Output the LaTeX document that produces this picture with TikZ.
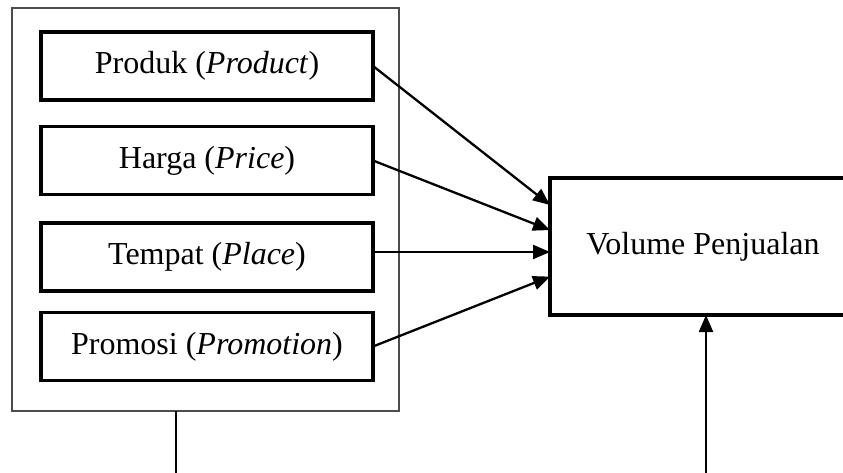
\documentclass[tikz,border=0pt]{standalone}
\usepackage{fontspec}
\setmainfont{Liberation Serif}
\usetikzlibrary{arrows.meta,calc}

\tikzset{
  factor/.style={draw, line width=3.5pt, minimum width=332pt, minimum height=68pt,
                 inner sep=0pt, outer sep=0pt, font=\fontsize{32}{38}\selectfont},
  target/.style={draw, line width=3.5pt, minimum width=306pt, minimum height=137pt,
                 inner sep=0pt, outer sep=0pt, font=\fontsize{32}{38}\selectfont},
  group/.style={draw=black!70, line width=1.3pt, minimum width=387pt, minimum height=403pt,
                inner sep=0pt, outer sep=0pt},
  link/.style={line width=2.3pt, -{Triangle[length=17pt,width=14pt]}},
  plain/.style={line width=2.3pt}
}

\begin{document}
\begin{tikzpicture}[x=1pt, y=-1pt]
  \useasboundingbox[fill=white] (0,0) rectangle (843,473);

  % marketing mix group
  \node[group] (grp) at (205.5,209.5) {};
  \node[factor] (b1) at (207,66)    {Produk (\textit{Product})};
  \node[factor] (b2) at (207,160.5) {Harga (\textit{Price})};
  \node[factor] (b3) at (207,257)   {Tempat (\textit{Place})};
  \node[factor] (b4) at (207,346.5) {Promosi (\textit{Promotion})};

  % dependent variable
  \node[target] (vol) at (703,246.5) {Volume Penjualan};

  % entry points on the left side of the target
  \coordinate (t1) at ($(vol.north west)!0.197!(vol.south west)$);
  \coordinate (t2) at ($(vol.north west)!0.38!(vol.south west)$);
  \coordinate (t3) at ($(vol.north west)!0.54!(vol.south west)$);
  \coordinate (t4) at ($(vol.north west)!0.72!(vol.south west)$);

  \draw[link] (b1.east) -- (t1);
  \draw[link] (b2.east) -- (t2);
  \draw[link] (t3 -| b3.east) -- (t3);
  \draw[link] (b4.east) -- (t4);

  % lines leaving the lower edge
  \coordinate (d1) at (176,476);
  \coordinate (d2) at (706,476);
  \draw[plain] (d1 |- grp.south) -- (d1);
  \draw[link] (d2) -- (d2 |- vol.south);
\end{tikzpicture}
\end{document}
